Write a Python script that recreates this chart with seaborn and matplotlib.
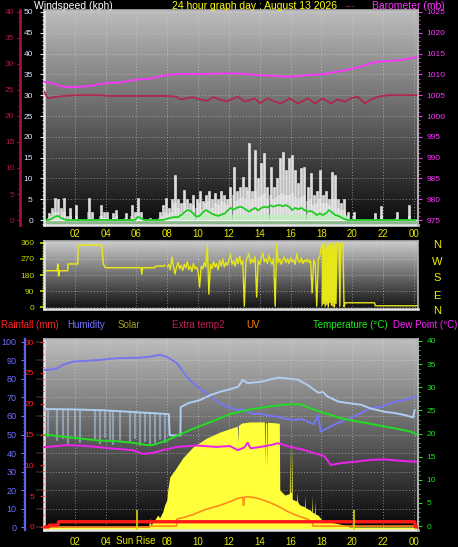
import numpy as np
import matplotlib
matplotlib.use("Agg")
import matplotlib.pyplot as plt
from matplotlib.ticker import MultipleLocator
import seaborn as sns

# ---------------------------------------------------------------- data
hour_ticks = [2, 4, 6, 8, 10, 12, 14, 16, 18, 20, 22, 24]
hour_labels = ["02", "04", "06", "08", "10", "12", "14", "16", "18", "20", "22", "00"]
# the bottom panel shows the sunrise label where "06" would be
hour_labels_low = ["02", "04", "", "08", "10", "12", "14", "16", "18", "20", "22", "00"]

# wind (kph), 12-minute samples
wind_t = np.round(np.arange(0.1, 24.2, 0.2), 1)
wind_gust = [0, 1.7, 3, 5.3, 5, 3, 5.3, 1, 3, 0,
             3.5, 0, 0, 0, 5.3, 2, 0, 0, 3.5, 2,
             2, 0, 1.7, 2.5, 0, 0, 1.7, 0, 3.5, 2,
             5.3, 2, 0, 0, 0.5, 0, 0, 2, 3.5, 5.3,
             3, 5, 10.8, 5, 4, 7.2, 5, 4, 6, 5,
             7, 4.5, 6, 7, 5, 6.5, 5, 7, 6, 5,
             8, 12.7, 7, 8, 10.3, 8, 18.5, 7, 16.8, 10,
             13.7, 16, 8, 12.7, 8, 10, 15, 16.4, 12, 14.9,
             15.6, 12, 9, 12.5, 12.8, 8, 11.3, 6, 7, 12,
             6, 7, 5, 11.5, 10.8, 5, 4, 5, 2, 0,
             2, 0, 0, 0, 0, 0, 0, 1.7, 0, 3.4,
             0, 0, 0, 0, 2, 0, 0, 0, 3.5, 0, 0]
wind_avg = [0, 0.5, 1, 2, 2, 1, 2, 0, 1, 0,
            1, 0, 0, 0, 2, 0.5, 0, 0, 1, 0.5,
            0.5, 0, 0.5, 1, 0, 0, 0.5, 0, 1, 0.5,
            2, 0.5, 0, 0, 0, 0, 0, 0.5, 1, 2,
            1.5, 2, 4, 3, 2, 4, 3, 2, 3.5, 3,
            4, 2.5, 4, 4.5, 3, 4, 3.5, 4.5, 4, 3.5,
            5, 6, 4.5, 5, 5.5, 5, 7, 5, 7, 5.5,
            6, 6.5, 5, 6, 5, 5.5, 6, 6.5, 6, 6,
            6.5, 5.5, 5, 5.5, 6, 4.5, 5, 3.5, 4, 5,
            4, 4, 3.5, 5, 5, 3, 2.5, 2.5, 1, 0,
            1, 0, 0, 0, 0, 0, 0, 0.5, 0, 1,
            0, 0, 0, 0, 0.5, 0, 0, 0, 1, 0, 0]
wind_mean = [0, 0, 0.3, 0.8, 1.0, 0.5, 0.2, 0, 0, 0,
             0, 0, 0, 0, 0, 0, 0, 0, 0, 0,
             0, 0, 0, 0, 0, 0, 0, 0, 0, 0,
             0.8, 0.4, 0, 0, 0, 0, 0, 0, 0, 0.2,
             0.4, 0.6, 0.7, 0.7, 1.2, 1.8, 2.4, 2.2, 1.5, 0.8,
             1.0, 1.8, 2.4, 2.0, 1.5, 1.2, 1.0, 1.3, 1.5, 2.2,
             2.9, 2.5, 2.9, 3.2, 3.0, 2.5, 2.0, 2.5, 2.9, 2.3,
             2.9, 3.2, 3.0, 3.5, 3.2, 3.5, 3.6, 3.3, 3.6, 3.2,
             2.4, 2.9, 2.6, 2.9, 2.4, 2.0, 2.2, 1.8, 1.2, 1.6,
             1.2, 1.6, 2.4, 1.8, 1.2, 1.0, 0.6, 0.2, 0, 0,
             0, 0, 0, 0, 0, 0, 0, 0, 0, 0,
             0, 0, 0, 0, 0, 0, 0, 0, 0, 0, 0]
calm_h = [0, 8.3, 8.35, 19.6, 19.65, 24.27]
calm_v = [0.25, 0.25, 1.4, 1.4, 0.25, 0.25]

# maroon trace on the outer left scale (0-40)
mar_h = [0, 0.25, 0.83, 1.48, 2.13, 3.62, 4.27, 7.97, 8.62, 8.82, 9.27, 9.66, 10.11,
         10.57, 10.96, 11.41, 11.86, 12.58, 13.03, 13.68, 14.0, 14.52, 14.98, 15.37,
         15.95, 16.47, 17.12, 17.57, 18.09, 18.61, 19.07, 19.52, 19.91, 20.36, 20.82,
         21.21, 21.67, 22.32, 24.26]
mar_v = [24.7, 23.4, 23.7, 23.9, 24.0, 24.0, 23.85, 23.85, 23.7, 23.2, 23.4, 23.6, 23.2,
         22.9, 23.6, 23.2, 22.8, 23.7, 22.75, 23.4, 22.4, 23.4, 22.75, 22.4,
         23.4, 22.4, 23.4, 22.4, 23.4, 22.4, 23.2, 22.75, 23.4, 23.7, 22.4,
         23.2, 23.7, 24.0, 24.0]

# barometer (mb)
baro_h = [0, 0.57, 1.03, 1.67, 2.32, 2.97, 3.62, 4.27, 4.92, 5.76, 6.86, 7.97, 8.82,
          10.11, 12.0, 13.22, 13.87, 15.17, 15.82, 16.47, 17.12, 18.22, 19.07, 19.71,
          20.56, 21.02, 21.67, 22.32, 23.16, 23.8, 24.26]
baro_v = [1008.25, 1007.86, 1007.2, 1006.9, 1007.04, 1007.2, 1007.7, 1008.0, 1008.0,
          1008.65, 1008.97, 1009.86, 1010.1, 1010.1, 1010.26, 1010.1, 1009.8, 1009.6,
          1009.45, 1009.6, 1009.8, 1010.1, 1010.7, 1011.1, 1011.85, 1012.5, 1013.05,
          1013.2, 1013.45, 1013.85, 1014.25]

# wind direction (deg)
dir_night_h = [0.0, 0.85, 0.9, 0.95, 1.0, 1.54, 1.56, 2.19, 2.21, 3.75, 3.85, 3.98,
               6.3, 6.35, 6.4, 7.19, 7.25, 7.8, 7.85]
dir_night_v = [204, 204, 242, 174, 204, 204, 242, 242, 348, 348, 242, 221,
               221, 185, 221, 221, 230, 230, 235]
dir_day_h = np.round(np.arange(8.0, 18.05, 0.1), 2)
dir_day_v = [225, 240, 210, 281, 230, 185, 225, 250, 215, 235,
             205, 240, 220, 255, 210, 230, 200, 245, 215, 225,
             200, 112, 230, 215, 250, 225, 348, 73, 240, 215,
             255, 225, 245, 210, 260, 230, 270, 225, 250, 235,
             265, 298, 240, 260, 230, 275, 245, 285, 240, 260,
             5, 255, 280, 300, 245, 270, 250, 285, 56, 260,
             240, 275, 305, 255, 270, 245, 290, 260, 240, 275,
             5, 354, 250, 270, 240, 265, 280, 250, 270, 245,
             275, 255, 265, 240, 300, 260, 250, 275, 245, 265,
             255, 270, 250, 260, 79, 265, 245, 5, 270, 285,
             340]
dir_eve_h = [18.05, 18.1, 18.15, 18.2, 18.25, 18.3, 18.35, 18.4, 18.45, 18.5, 18.55,
             18.6, 18.65, 18.7, 18.75, 18.8, 18.85, 18.9, 18.95, 19.0, 19.05, 19.1,
             19.15, 19.2, 19.25, 19.3, 19.35, 19.4, 19.47, 19.55, 21.45, 21.5, 24.26]
dir_eve_v = [10, 350, 20, 355, 5, 330, 15, 360, 0, 345, 25,
             355, 10, 360, 5, 340, 0, 358, 20, 360, 355, 350,
             355, 5, 355, 360, 360, 358, 2, 24, 24, 7, 7]

# humidity (%)
hum_h = [0.0, 0.25, 0.9, 1.22, 1.87, 2.52, 3.62, 4.72, 6.22, 6.86, 7.51, 7.97, 8.62,
         9.27, 9.92, 10.56, 11.21, 11.86, 12.3, 12.58, 12.9, 13.22, 13.6, 14.07, 14.5,
         15.17, 15.6, 16.27, 16.7, 17.12, 17.5, 17.77, 17.96, 18.41, 19.07, 19.91,
         20.56, 21.21, 21.86, 22.77, 23.42, 24.06, 24.26]
hum_v = [85.0, 84.9, 85.8, 87.6, 89.4, 89.7, 90.3, 91.2, 91.5, 92.0, 93.0, 92.0, 88.6,
         81.2, 75.8, 72.4, 68.0, 65.0, 64.0, 63.2, 63.8, 62.3, 61.0, 61.4, 60.2,
         59.6, 58.6, 57.8, 58.5, 56.9, 55.5, 60.5, 51.5, 53.5, 56.2, 58.9,
         61.6, 64.3, 65.0, 67.6, 68.6, 70.4, 70.4]

# light blue temperature trace (deg C) and its night-time dropouts
lb_h = [0.0, 2.0, 4.0, 6.0, 8.1, 8.15, 8.85, 8.87, 9.4, 10.1, 10.8, 11.4, 11.9, 12.6,
        12.9, 13.2, 14.1, 15.2, 15.8, 16.5, 17.1, 17.8, 18.1, 18.4, 19.1, 19.9, 20.6,
        21.2, 22.1, 22.8, 23.4, 23.8, 23.95, 24.06]
lb_v = [25.3, 25.2, 25.0, 24.6, 24.2, 19.6, 19.6, 25.7, 26.6, 27.2, 28.3, 29.0, 29.4,
        30.1, 31.6, 30.9, 31.2, 32.1, 31.9, 31.6, 30.5, 28.8, 29.0, 28.0, 26.9, 26.5,
        26.2, 25.4, 24.7, 24.4, 24.0, 23.6, 23.5, 25.1]
drop_h = [0.25, 0.83, 1.22, 1.54, 2.0, 2.32, 3.3, 3.62, 3.95, 4.27, 4.46, 4.92, 5.57,
          5.89, 6.22, 6.54, 6.86, 7.19, 7.51, 7.84]
drop_lo = [19.5, 18.5, 19.0, 18.0, 19.5, 18.2, 18.8, 18.0, 19.2, 18.5, 17.8, 18.6, 18.2,
           19.0, 17.6, 18.3, 17.5, 18.0, 18.8, 18.2]
drop_hi = [25.3, 25.3, 25.3, 25.2, 25.2, 25.2, 25.1, 25.1, 25.0, 25.0, 24.9, 24.9, 24.8,
           24.7, 24.6, 24.5, 24.5, 24.4, 24.3, 24.3]

# temperature and dew point (deg C)
tmp_h = [0.0, 0.25, 2.13, 3.62, 4.46, 5.76, 6.67, 7.06, 7.97, 8.82, 9.66, 10.43, 11.21,
         12.06, 13.22, 14.52, 15.82, 16.66, 17.57, 18.41, 19.26, 20.17, 21.02, 22.12,
         22.96, 23.8, 24.26]
tmp_v = [19.7, 19.7, 19.0, 18.45, 18.4, 18.0, 17.5, 17.5, 18.5, 19.8, 21.0, 22.0, 23.0,
         24.2, 25.1, 25.8, 26.3, 26.3, 25.1, 24.2, 23.3, 22.7, 22.2, 21.5,
         21.0, 20.4, 19.7]
dew_h = [0.0, 0.25, 1.5, 2.8, 4.27, 5.76, 6.41, 7.06, 7.71, 8.62, 9.92, 11.21, 12.06,
         12.58, 13.0, 13.22, 13.4, 13.87, 14.72, 15.17, 16.02, 16.92, 17.57, 17.96,
         18.22, 18.61, 19.26, 20.17, 21.21, 22.12, 23.16, 24.06, 24.26]
dew_v = [17.1, 17.1, 17.5, 17.3, 16.8, 16.4, 15.6, 15.8, 16.4, 17.1, 17.4, 17.1, 17.3,
         16.4, 17.0, 18.0, 16.8, 17.0, 17.5, 17.9, 17.1, 16.4, 15.7, 15.4,
         15.0, 13.2, 13.6, 13.9, 14.3, 14.4, 14.1, 13.9, 13.9]

# solar (W/m2)
sol_h = [0.0, 6.8, 6.86, 6.95, 7.06, 7.2, 7.38, 7.5, 7.7, 7.83, 7.97, 8.03, 8.16, 8.49,
         9.0, 9.66, 10.56, 11.41, 12.19, 12.55, 12.58, 12.62, 12.84, 13.36, 14.3, 14.33,
         14.37, 14.44, 14.47, 14.5, 15.17, 15.27, 15.3, 15.63, 15.92, 15.95, 15.98,
         16.05, 16.08, 16.11, 16.4, 16.43, 16.46, 16.6, 16.9, 16.92, 16.95, 17.25,
         17.36, 17.38, 17.41, 17.55, 17.57, 17.6, 17.77, 18.03, 18.54, 19.2, 19.52,
         19.84, 24.27]
sol_v = [0, 0, 49, 10, 27, 40, 65, 50, 81, 119, 146, 200, 270, 308,
         373, 432, 481, 513, 535, 545, 454, 550, 562, 568, 568, 346,
         560, 565, 324, 566, 562, 560, 200, 173, 180, 432, 190,
         185, 454, 150, 140, 190, 135, 119, 110, 173, 105, 92,
         85, 173, 80, 75, 146, 70, 65, 38, 27, 16, 11,
         0, 0]

# UV index and rainfall
uv_h = [0.0, 6.86, 6.87, 8.6, 8.62, 9.0, 9.66, 10.43, 11.41, 12.06, 12.58, 12.9, 12.95,
        13.0, 13.22, 13.55, 13.87, 14.52, 15.17, 15.82, 16.47, 17.12, 17.43, 17.45,
        24.06, 24.1, 24.27]
uv_v = [0, 0, 0.15, 0.15, 1.3, 1.5, 2.0, 2.8, 3.5, 4.1, 4.65, 4.8, 3.5,
        4.8, 4.9, 4.8, 4.65, 4.1, 3.4, 2.5, 1.8, 1.25, 0.7, 0.15,
        0.15, 0, 0]
rain_h = [0.0, 0.3, 0.35, 0.9, 0.95, 24.05, 24.1, 24.27]
rain_v = [0, 0, 0.3, 0.3, 0.85, 0.85, 0, 0]
sun_h = [6.03, 20.1]

# ---------------------------------------------------------------- style
sns.set_theme(style="ticks", rc={"figure.facecolor": "black",
                                 "axes.facecolor": "none",
                                 "savefig.facecolor": "black"})
plt.rcParams["font.family"] = ["Liberation Sans", "DejaVu Sans"]

W, H = 458, 547
fig = plt.figure(figsize=(W / 100, H / 100), dpi=100)


def box(x0, y0, x1, y1):
    return [x0 / W, 1 - y1 / H, (x1 - x0) / W, (y1 - y0) / H]


def ftext(x, y, s, color, size=7.5, ha="left"):
    fig.text(x / W, 1 - y / H, s, color=color, fontsize=size, ha=ha, va="center")


def backdrop(ax, top, bottom):
    grad = np.linspace(top, bottom, 256)[:, None]
    ax.imshow(grad, extent=[0, 1, 0, 1], transform=ax.transAxes, aspect="auto",
              cmap="gray", vmin=0, vmax=1, zorder=0)


def frame(ax, labels):
    ax.set_axisbelow(True)
    for s in ("left", "bottom"):
        ax.spines[s].set_color("#e6e6e6")
        ax.spines[s].set_linewidth(1.8)
    for s in ("top", "right"):
        ax.spines[s].set_color("#b4b4b4")
        ax.spines[s].set_linewidth(1.2)
    ax.grid(True, which="major", color="#d8d8d8", linestyle=(0, (1, 2)),
            linewidth=0.7, alpha=0.55)
    ax.set_xlim(0, 24.27)
    ax.set_xticks(hour_ticks, labels)


def twin(ax, side, offset, color, lw=1.2):
    tw = ax.twinx()
    for s in tw.spines.values():
        s.set_visible(False)
    tw.spines[side].set_visible(True)
    tw.spines[side].set_position(("axes", offset))
    tw.spines[side].set_color(color)
    tw.spines[side].set_linewidth(lw)
    tw.yaxis.set_ticks_position(side)
    tw.grid(False)
    return tw


def yscale(ax, lo, hi, major, minor, color, size=6, pad=3, length=3):
    ax.set_ylim(lo, hi)
    ax.yaxis.set_major_locator(MultipleLocator(major))
    ax.yaxis.set_minor_locator(MultipleLocator(minor))
    ax.tick_params(axis="y", which="major", colors=color, labelsize=size,
                   pad=pad, length=length, width=0.8)
    ax.tick_params(axis="y", which="minor", colors=color, length=1.5, width=0.6)


def line(ax, x, y, color, lw=1.2, **kw):
    sns.lineplot(x=x, y=y, ax=ax, color=color, linewidth=lw,
                 estimator=None, sort=False, **kw)


# ---------------------------------------------------------------- wind + barometer
ax_w = fig.add_axes(box(44, 10, 418, 225))
backdrop(ax_w, 0.74, 0.04)
frame(ax_w, hour_labels)
yscale(ax_w, -1.2, 50.48, 5, 1, "#dce6ff", pad=5)
ax_w.tick_params(axis="x", colors="#e6e600", labelsize=7, length=0, pad=3)
ax_w.bar(wind_t, wind_avg, width=0.2, color="#c8c8c8", alpha=0.6, lw=0)
ax_w.bar(wind_t, wind_gust, width=0.13, color="#f2f2f2", alpha=0.9,
         edgecolor="white", lw=0.4)
ax_w.fill_between(calm_h, -1.2, calm_v, color="#b8f2b8", alpha=0.75, lw=0)
line(ax_w, [0, 24.27], [0, 0], "#f0f0f0", lw=1.0)
line(ax_w, wind_t, wind_mean, "#22cc22", lw=1.3)

ax_m = twin(ax_w, "left", -24 / 374, "#a0103c", lw=2)
yscale(ax_m, -0.96, 40.38, 5, 1, "#b4144a", pad=2, length=2)
line(ax_m, mar_h, mar_v, "#b0284e", lw=1.3)

ax_b = twin(ax_w, "right", 1.0, "#b4b4b4")
yscale(ax_b, 973.8, 1025.48, 5, 1, "#ff33ff", pad=3, length=3)
line(ax_b, baro_h, baro_v, "#ff33ff", lw=1.3)

# ---------------------------------------------------------------- wind direction
ax_d = fig.add_axes(box(44, 241, 418, 309))
backdrop(ax_d, 0.8, 0.06)
frame(ax_d, hour_labels)
ax_d.set_ylim(-11, 371)
ax_d.set_yticks([0, 90, 180, 270, 360])
ax_d.yaxis.set_minor_locator(MultipleLocator(15))
ax_d.tick_params(axis="y", which="major", colors="#c8dc00", labelsize=6, pad=4, length=3)
ax_d.tick_params(axis="y", which="minor", colors="#a0a000", length=1.5)
ax_d.tick_params(axis="x", length=0, labelbottom=False)
line(ax_d, dir_night_h, dir_night_v, "#e6e619", lw=1.1)
line(ax_d, dir_day_h, dir_day_v, "#e6e619", lw=1.0)
line(ax_d, dir_eve_h, dir_eve_v, "#e6e619", lw=1.0)

# ---------------------------------------------------------------- bottom panel
ax_s = fig.add_axes(box(44, 339, 418, 530))
backdrop(ax_s, 0.74, 0.02)
frame(ax_s, hour_labels_low)
ax_s.set_ylim(-16.2, 1016.2)
ax_s.yaxis.set_major_locator(MultipleLocator(100))
ax_s.tick_params(axis="y", left=False, labelleft=False)
ax_s.tick_params(axis="x", colors="#e6e600", labelsize=7, length=0, pad=5)
ax_s.fill_between(sol_h, -16.2, sol_v, color="#ffff3a", lw=0)

ax_h = twin(ax_s, "left", -19 / 374, "#6262e6", lw=1.6)
yscale(ax_h, -1.6, 101.6, 10, 2, "#7070ff", size=6.5, pad=3, length=3)
line(ax_h, hum_h, hum_v, "#7676f0", lw=1.4)

ax_t = twin(ax_s, "right", 1.0, "#b4b4b4")
yscale(ax_t, -0.86, 40.43, 5, 1, "#22dd22", pad=3, length=3)
ax_t.bar(drop_h, np.subtract(drop_hi, drop_lo), bottom=drop_lo, width=0.07,
         color="#b4d2f0", alpha=0.4, edgecolor="#b4d2f0", linewidth=0.9)
line(ax_t, lb_h, lb_v, "#b0cef0", lw=1.4)
line(ax_t, tmp_h, tmp_v, "#22dd22", lw=1.4)
line(ax_t, dew_h, dew_v, "#ee22ee", lw=1.4)

ax_r = twin(ax_s, "left", 0.0, "#e6e6e6")
ax_r.spines["left"].set_visible(False)
yscale(ax_r, -0.49, 30.49, 5, 1, "#ff2020", pad=4, length=3)
line(ax_r, uv_h, uv_v, "#ff8c1a", lw=1.2)
line(ax_r, rain_h, rain_v, "#ff1a1a", lw=2.4)
ax_r.vlines(sun_h, -0.49, 2.75, color="#d8d800", linewidth=1.2)

# ---------------------------------------------------------------- texts
ftext(34, 6, "Windspeed (kph)", "white")
ftext(172, 6, "24 hour graph day : August 13 2026", "#ffff00")
ftext(345, 6, "---", "#a8284c")
ftext(372, 6, "Barometer (mb)", "#ff33ff")

for lbl, yy in zip(["N", "W", "S", "E", "N"], [245, 262, 278, 296, 311]):
    ftext(437, yy, lbl, "#f0f000", size=8, ha="center")

legend_items = [("Rainfall (mm)", "#ff2020", 1), ("Humidity", "#7070ff", 67),
                ("Solar", "#a0a020", 118), ("Extra temp2", "#c02050", 172),
                ("UV", "#ff8000", 246), ("Temperature (°C)", "#20ee20", 313),
                ("Dew Point (°C)", "#ff20ff", 393)]
for txt, col, xx in legend_items:
    ftext(xx, 325, txt, col, size=7)

ftext(136, 541, "Sun Rise", "#e6e600", size=7, ha="center")

fig.savefig("out.png", dpi=100, facecolor="black")
